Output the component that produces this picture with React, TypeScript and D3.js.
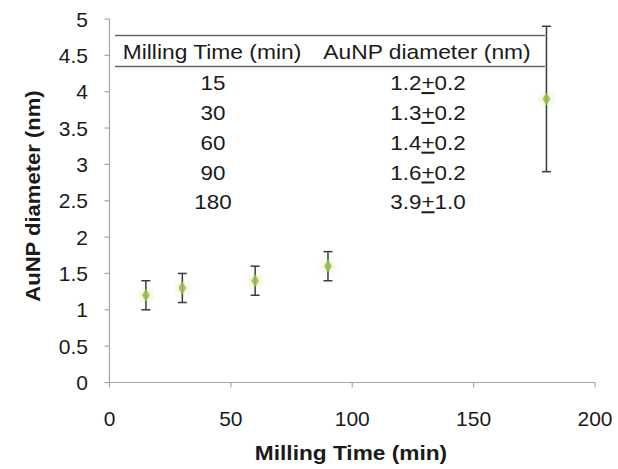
import React from "react";
import * as d3 from "d3";

const millingTimes = [15, 30, 60, 90, 180];
const diameters = [1.2, 1.3, 1.4, 1.6, 3.9];
const errors = [0.2, 0.2, 0.2, 0.2, 1.0];
const xTicks = [0, 50, 100, 150, 200];
const yTicks = [0, 0.5, 1, 1.5, 2, 2.5, 3, 3.5, 4, 4.5, 5];
const tableHeader = ["Milling Time (min)", "AuNP diameter (nm)"];
const tableTimes = ["15", "30", "60", "90", "180"];
const tableMeans = ["1.2", "1.3", "1.4", "1.6", "3.9"];
const tableErrs = ["0.2", "0.2", "0.2", "0.2", "1.0"];

const W = 618;
const H = 469;
const FONT = "'Liberation Sans', Arial, sans-serif";

export default function App() {
  const x = d3.scaleLinear().domain([0, 200]).range([109.5, 595]);
  const y = d3.scaleLinear().domain([0, 5]).range([382.5, 19]);
  const axisColor = "#a6a6a6";
  const textColor = "#1a1a1a";
  const markerColor = "#9bbb59";

  const tableLeft = 115;
  const tableRight = x(180) - 1.5;
  const line1 = 35.5;
  const line2 = 66.5;
  const col1 = 213;
  const col2 = 428;
  const rowY = (i: number) => 83 + i * 29.8;

  return (
    <svg width={W} height={H} style={{ position: "absolute", left: 0, top: 0 }}>
      <defs>
        <filter id="glow" x="-100%" y="-100%" width="300%" height="300%">
          <feGaussianBlur stdDeviation="2.5" />
        </filter>
      </defs>
      <rect width={W} height={H} fill="#fff" />
      {/* axes */}
      <line x1={x(0)} x2={x(0)} y1={y(5)} y2={y(0)} stroke={axisColor} strokeWidth={1.2} />
      <line x1={x(0)} x2={x(200)} y1={y(0)} y2={y(0)} stroke={axisColor} strokeWidth={1.2} />
      {yTicks.map((t) => (
        <g key={"y" + t}>
          <line x1={x(0) - 5} x2={x(0)} y1={y(t)} y2={y(t)} stroke={axisColor} strokeWidth={1.2} />
          <text
            x={88}
            y={y(t)}
            dy="0.36em"
            textAnchor="end"
            fontFamily={FONT}
            fontSize={21}
            fill={textColor}
          >
            {String(t)}
          </text>
        </g>
      ))}
      {xTicks.map((t) => (
        <g key={"x" + t}>
          <line x1={x(t)} x2={x(t)} y1={y(0)} y2={y(0) + 5} stroke={axisColor} strokeWidth={1.2} />
          <text
            x={x(t)}
            y={418}
            dy="0.36em"
            textAnchor="middle"
            fontFamily={FONT}
            fontSize={21}
            fill={textColor}
          >
            {String(t)}
          </text>
        </g>
      ))}
      {/* axis titles */}
      <text
        x={351}
        y={452}
        dy="0.36em"
        textAnchor="middle"
        fontFamily={FONT}
        fontSize={21}
        fontWeight="bold"
        fill={textColor}
        transform="translate(351,0) scale(1.08,1) translate(-351,0)"
      >
        Milling Time (min)
      </text>
      <text
        transform="translate(32,196) rotate(-90) scale(1.05,1)"
        dy="0.36em"
        textAnchor="middle"
        fontFamily={FONT}
        fontSize={21}
        fontWeight="bold"
        fill={textColor}
      >
        AuNP diameter (nm)
      </text>
      {/* table */}
      <line x1={tableLeft} x2={tableRight} y1={line1} y2={line1} stroke="#666" strokeWidth={1.3} />
      <line x1={tableLeft} x2={tableRight} y1={line2} y2={line2} stroke="#666" strokeWidth={1.3} />
      <text
        x={212}
        y={51.5}
        dy="0.36em"
        textAnchor="middle"
        fontFamily={FONT}
        fontSize={20}
        fill={textColor}
        transform="translate(212,0) scale(1.14,1) translate(-212,0)"
      >
        {tableHeader[0]}
      </text>
      <text
        x={427}
        y={51.5}
        dy="0.36em"
        textAnchor="middle"
        fontFamily={FONT}
        fontSize={20}
        fill={textColor}
        transform="translate(427,0) scale(1.14,1) translate(-427,0)"
      >
        {tableHeader[1]}
      </text>
      {tableTimes.map((t, i) => (
        <g key={"row" + i}>
          <text
            x={col1}
            y={rowY(i)}
            dy="0.36em"
            textAnchor="middle"
            fontFamily={FONT}
            fontSize={20}
            fill={textColor}
            transform={`translate(${col1},0) scale(1.12,1) translate(${-col1},0)`}
          >
            {t}
          </text>
          <text
            x={col2}
            y={rowY(i)}
            dy="0.36em"
            textAnchor="middle"
            fontFamily={FONT}
            fontSize={20}
            fill={textColor}
            transform={`translate(${col2},0) scale(1.12,1) translate(${-col2},0)`}
          >
            <tspan>{tableMeans[i]}</tspan>
            <tspan textDecoration="underline">+</tspan>
            <tspan>{tableErrs[i]}</tspan>
          </text>
        </g>
      ))}
      {/* data */}
      {millingTimes.map((t, i) => {
        const cx = x(t);
        const cy = y(diameters[i]);
        const top = y(diameters[i] + errors[i]);
        const bot = y(diameters[i] - errors[i]);
        return (
          <g key={"pt" + i}>
            <circle cx={cx} cy={cy} r={7} fill="#e8f0c0" opacity={0.7} filter="url(#glow)" />
            <line x1={cx} x2={cx} y1={top} y2={bot} stroke="#3a3a3a" strokeWidth={1.5} />
            <line x1={cx - 4.5} x2={cx + 4.5} y1={top} y2={top} stroke="#3a3a3a" strokeWidth={1.5} />
            <line x1={cx - 4.5} x2={cx + 4.5} y1={bot} y2={bot} stroke="#3a3a3a" strokeWidth={1.5} />
            <path
              d={d3.symbol().type(d3.symbolDiamond).size(50)() as string}
              transform={`translate(${cx},${cy})`}
              fill={markerColor}
              opacity={0.9}
            />
          </g>
        );
      })}
    </svg>
  );
}
